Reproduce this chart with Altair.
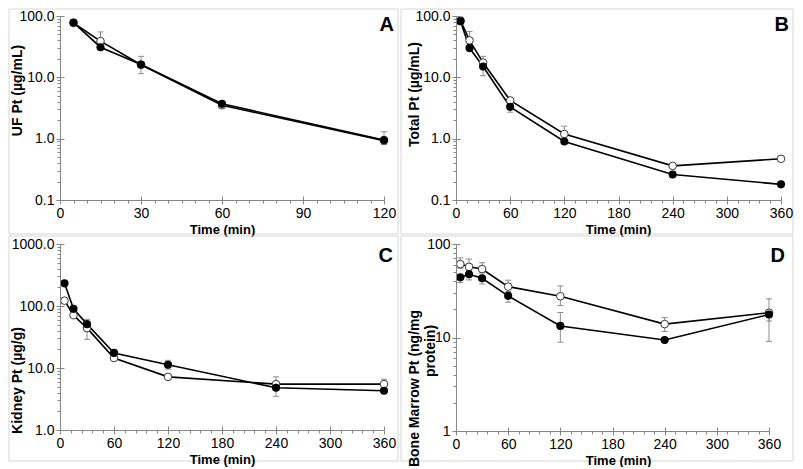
import altair as alt
import pandas as pd

FONT = "Liberation Sans"
AXC = "#868686"
ERRC = "#8c8c8c"

# ---------------- data ----------------
A_TIME = [5, 15, 30, 60, 120]
A_OPEN = [77, 39, 16.0, 3.5, 0.93]
A_OPEN_LO = [None, 29, 11.5, 3.2, 0.80]
A_OPEN_HI = [None, 55, 22, 3.9, 1.30]
A_FILLED = [78, 31, 16.2, 3.7, 0.95]
A_FILLED_LO = [None, None, None, None, None]
A_FILLED_HI = [None, None, None, None, None]

BCD_TIME = [5, 15, 30, 60, 120, 240, 360]

B_OPEN = [84, 40, 17.4, 4.2, 1.19, 0.36, 0.47]
B_OPEN_LO = [None, 33, None, None, None, None, None]
B_OPEN_HI = [96, 56, 22, 4.6, 1.6, None, None]
B_FILLED = [82, 30, 15.0, 3.3, 0.90, 0.26, 0.18]
B_FILLED_LO = [72, 27, 10.6, 2.7, None, None, None]
B_FILLED_HI = [None, None, None, None, None, None, None]

C_OPEN = [122, 71, 44, 14.5, 7.2, 5.5, 5.5]
C_OPEN_LO = [None, None, 29, None, None, 4.6, 5.0]
C_OPEN_HI = [None, None, 61, None, None, 7.2, 6.6]
C_FILLED = [232, 90, 51, 17.5, 11.3, 4.8, 4.3]
C_FILLED_LO = [None, None, None, None, 9.6, 3.5, 4.0]
C_FILLED_HI = [None, None, None, None, 13.3, None, None]

D_OPEN = [61, 57, 54, 35, 27.6, 13.9, 18.4]
D_OPEN_LO = [55, 52, 49, 31, 22, 11.6, 15]
D_OPEN_HI = [71, 69, 63, 41, 35.6, 16.3, 25.9]
D_FILLED = [44, 47.5, 43, 27.9, 13.3, 9.4, 17.6]
D_FILLED_LO = [38.6, 41.3, 37.4, 23.8, 8.9, None, 9.1]
D_FILLED_HI = [None, None, None, None, 18.5, None, None]

X_TITLE = "Time (min)"


def frames(time, series):
    pts, err, caps = [], [], []
    for name, vals, lo, hi in series:
        for t, v, l, h in zip(time, vals, lo, hi):
            pts.append({"t": t, "v": v, "s": name})
            if l is not None or h is not None:
                err.append({"t": t, "lo": l if l is not None else v,
                            "hi": h if h is not None else v, "s": name})
            for c in (l, h):
                if c is not None:
                    caps.append({"t": t, "c": c, "s": name})
    return pd.DataFrame(pts), pd.DataFrame(err), pd.DataFrame(caps)


def panel(time, series, xmax, xstep, xminor, ymaj, ymin, yfmt, ytitle,
          ytx, yty, letter, w, h, border, extra_text=None):
    pts, err, caps = frames(time, series)
    xs = alt.Scale(domain=[0, xmax], nice=False, zero=False)
    ys = alt.Scale(type="log", domain=[ymaj[0], ymaj[-1]], nice=False)
    xmaj = list(range(0, xmax + 1, xstep))
    xmin = [v for v in range(0, xmax + 1, xminor) if v not in xmaj]

    common = dict(grid=False, tickColor=AXC, domainColor=AXC, tickWidth=1,
                  domainWidth=1, zindex=1)
    main_x = alt.Axis(orient="bottom", values=xmaj, tickSize=4, labelFontSize=14,
                      labelPadding=2, labelColor="black", labelFont=FONT,
                      title=X_TITLE, titleFont=FONT, titleFontSize=13,
                      titleFontWeight="bold", titleColor="black", titleX=162,
                      titleY=29, titleBaseline="middle", titleAlign="center",
                      labelFlush=False, labelOverlap=False, **common)
    main_y = alt.Axis(orient="left", values=ymaj, format=yfmt, tickSize=4,
                      labelFontSize=14, labelPadding=2, labelColor="black",
                      labelFont=FONT, title=ytitle, titleFont=FONT,
                      titleFontSize=14, titleFontWeight="bold", titleColor="black",
                      titleAngle=270, titleX=ytx, titleY=yty,
                      titleBaseline="middle", titleAlign="center",
                      labelFlush=False, labelOverlap=False, **common)
    in_x = alt.Axis(orient="bottom", values=xmaj, tickSize=4, offset=-4,
                    labels=False, domain=False, title=None, **common)
    in_y = alt.Axis(orient="left", values=ymaj, tickSize=4, offset=-4,
                    labels=False, domain=False, title=None, **common)
    mi_x = alt.Axis(orient="bottom", values=xmin, tickSize=3, labels=False,
                    domain=False, title=None, **common)
    mi_y = alt.Axis(orient="left", values=ymin, tickSize=3, labels=False,
                    domain=False, title=None, **common)

    one = pd.DataFrame({"k": [0]})
    bx1, bx2, by1, by2 = border
    box = alt.Chart(one).mark_rect(filled=False, stroke="#d6d6d6", strokeWidth=1).encode(
        x=alt.value(bx1), x2=alt.value(bx2), y=alt.value(by1), y2=alt.value(by2))

    lines = alt.Chart(pts).mark_line(color="black", strokeWidth=1.6).encode(
        x=alt.X("t:Q", scale=xs, axis=main_x),
        y=alt.Y("v:Q", scale=ys, axis=main_y),
        detail="s:N")
    rules = alt.Chart(err).mark_rule(color=ERRC, strokeWidth=1).encode(
        x=alt.X("t:Q", scale=xs, axis=in_x),
        y=alt.Y("lo:Q", scale=ys, axis=in_y),
        y2="hi:Q")
    capm = alt.Chart(caps).mark_tick(orient="horizontal", size=6, thickness=1,
                                     color=ERRC, opacity=1).encode(
        x=alt.X("t:Q", scale=xs, axis=mi_x),
        y=alt.Y("c:Q", scale=ys, axis=mi_y))
    openp = alt.Chart(pts[pts.s == "open"]).mark_circle(
        fill="white", stroke="#3a3a3a", strokeWidth=1, size=58, opacity=1).encode(
        x=alt.X("t:Q", scale=xs, axis=None),
        y=alt.Y("v:Q", scale=ys, axis=None))
    fillp = alt.Chart(pts[pts.s == "filled"]).mark_circle(
        color="black", size=66, opacity=1).encode(
        x=alt.X("t:Q", scale=xs, axis=None),
        y=alt.Y("v:Q", scale=ys, axis=None))
    let = alt.Chart(one).mark_text(text=letter, font=FONT, fontSize=20,
                                   fontWeight="bold", align="right",
                                   baseline="top", color="black").encode(
        x=alt.value(w + letter_dx[letter]), y=alt.value(letter_dy[letter]))
    layers = [box, lines, rules, capm, openp, fillp, let]
    if extra_text is not None:
        txt, ex, ey = extra_text
        layers.append(alt.Chart(one).mark_text(
            text=txt, font=FONT, fontSize=14, fontWeight="bold", angle=270,
            align="center", baseline="middle", color="black").encode(
            x=alt.value(ex), y=alt.value(ey)))
    return alt.layer(*layers).resolve_axis(x="independent", y="independent").properties(
        width=w, height=h)


letter_dx = {"A": 10, "B": 8, "C": 9, "D": 16}
letter_dy = {"A": -1, "B": -1, "C": 2, "D": 2}

def ymin_for(decades):
    return [m * 10.0 ** k for k in decades for m in range(2, 10)]


pA = panel(A_TIME, [("open", A_OPEN, A_OPEN_LO, A_OPEN_HI),
                    ("filled", A_FILLED, A_FILLED_LO, A_FILLED_HI)],
           120, 30, 5, [0.1, 1, 10, 100], ymin_for([-1, 0, 1]), ".1f",
           "UF Pt (µg/mL)", -43, 74, "A", 324, 184, (-51, 338, -7, 218))
pB = panel(BCD_TIME, [("open", B_OPEN, B_OPEN_LO, B_OPEN_HI),
                      ("filled", B_FILLED, B_FILLED_LO, B_FILLED_HI)],
           360, 60, 12, [0.1, 1, 10, 100], ymin_for([-1, 0, 1]), ".1f",
           "Total Pt (µg/mL)", -42, 78, "B", 325, 184, (-55, 337, -7, 218))
pC = panel(BCD_TIME, [("open", C_OPEN, C_OPEN_LO, C_OPEN_HI),
                      ("filled", C_FILLED, C_FILLED_LO, C_FILLED_HI)],
           360, 60, 12, [1, 10, 100, 1000], ymin_for([0, 1, 2]), ".1f",
           "Kidney Pt (µg/g)", -43, 136, "C", 324, 186, (-51, 338, -8, 217))
pD = panel(BCD_TIME, [("open", D_OPEN, D_OPEN_LO, D_OPEN_HI),
                      ("filled", D_FILLED, D_FILLED_LO, D_FILLED_HI)],
           360, 60, 12, [1, 10, 100], ymin_for([0, 1]), ".0f",
           "Bone Marrow Pt (ng/mg", -42, 144, "D", 313, 187, (-55, 337, -8, 217),
           extra_text=("protein)", -25, 107))

chart = alt.concat(pA, pB, pC, pD, columns=2, spacing={"row": 44, "column": 72},
                   bounds="flush").properties(
    padding={"left": 0, "top": 0, "right": 0, "bottom": 0},
    background="white",
).configure_view(stroke=None)

chart.save("out.html", embed_options={"renderer": "svg", "actions": False})
